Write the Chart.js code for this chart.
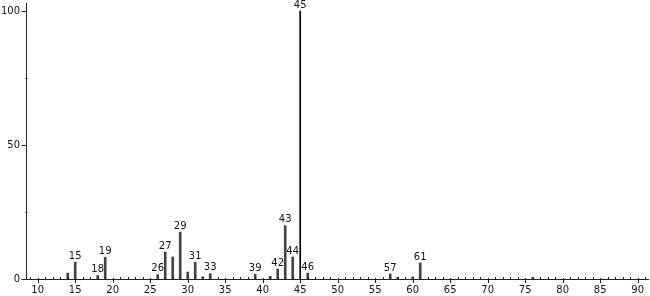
<!DOCTYPE html>
<html>
<head>
<meta charset="utf-8">
<script src="https://cdn.jsdelivr.net/npm/chart.js@4"></script>
<style>
  body { margin: 0; background: #fff; }
  #wrap { width: 650px; height: 296px; }
</style>
</head>
<body>
<div id="wrap"><canvas id="spectrum"></canvas></div>
<script>
// m/z values and relative intensities
const masses = [14, 15, 18, 19, 26, 27, 28, 29, 30, 31, 32, 33, 39, 41, 42, 43, 44, 45, 46, 57, 58, 60, 61, 76];
const intensities = [2.2, 6.3, 1.3, 8.1, 1.6, 10.1, 8.2, 17.5, 2.6, 6.3, 0.8, 2.0, 1.8, 1.0, 3.7, 19.9, 8.2, 100, 2.2, 1.9, 0.7, 0.8, 6.0, 0.6];
const labeledMasses = [15, 18, 19, 26, 27, 29, 31, 33, 39, 42, 43, 44, 45, 46, 57, 61];
const basePeak = 45;
const yTickValues = [0, 25, 50, 75, 100];

const fontFamily = "'DejaVu Sans', sans-serif";

const minorPeaks = [];
const basePoints = [];
masses.forEach((m, i) => {
  if (m === basePeak) basePoints.push({ x: m, y: intensities[i] });
  else minorPeaks.push({ x: m, y: intensities[i] });
});

// draws the axis tick marks and the m/z labels over the peaks
const spectrumDecor = {
  id: "spectrumDecor",
  afterDraw(chart) {
    const ctx = chart.ctx;
    const xs = chart.scales.x;
    const ys = chart.scales.y;
    const base = ys.getPixelForValue(0);
    ctx.save();
    ctx.strokeStyle = "#222";
    ctx.lineWidth = 1;

    for (let v = Math.ceil(xs.min); v <= Math.floor(xs.max); v++) {
      const px = Math.round(xs.getPixelForValue(v)) + 0.5;
      ctx.beginPath();
      if (v % 5 === 0) {
        ctx.moveTo(px, base - 1);
        ctx.lineTo(px, base + 4);
      } else {
        ctx.moveTo(px, base - 2);
        ctx.lineTo(px, base + 1);
      }
      ctx.stroke();
    }

    const left = Math.round(xs.left) + 0.5;
    yTickValues.forEach((v) => {
      const py = Math.round(ys.getPixelForValue(v)) + 0.5;
      ctx.beginPath();
      if (v % 50 === 0) {
        ctx.moveTo(left - 5, py);
        ctx.lineTo(left, py);
      } else {
        ctx.moveTo(left - 1, py);
        ctx.lineTo(left + 1, py);
      }
      ctx.stroke();
    });

    ctx.fillStyle = "#111";
    ctx.font = "10px " + fontFamily;
    ctx.textAlign = "center";
    ctx.textBaseline = "bottom";
    labeledMasses.forEach((m) => {
      const i = masses.indexOf(m);
      const px = xs.getPixelForValue(m);
      const py = ys.getPixelForValue(intensities[i]);
      ctx.fillText(String(m), px, py - 1);
    });
    ctx.restore();
  },
};

new Chart(document.getElementById("spectrum"), {
  type: "bar",
  data: {
    datasets: [
      {
        data: minorPeaks,
        backgroundColor: "#444",
        barThickness: 2,
        grouped: false,
      },
      {
        data: basePoints,
        backgroundColor: "#000",
        barThickness: 1,
        grouped: false,
      },
    ],
  },
  options: {
    responsive: true,
    maintainAspectRatio: false,
    animation: false,
    events: [],
    layout: { padding: { top: 3, right: 2, left: 0, bottom: 0 } },
    plugins: {
      legend: { display: false },
      tooltip: { enabled: false },
    },
    scales: {
      x: {
        type: "linear",
        offset: false,
        min: 8.44,
        max: 91.37,
        afterFit: (scale) => {
          scale.height = 17;
          scale.paddingLeft = 0;
          scale.paddingRight = 0;
        },
        afterBuildTicks: (scale) => {
          const t = [];
          for (let v = 10; v <= 90; v += 5) t.push({ value: v });
          scale.ticks = t;
        },
        grid: { display: false, drawTicks: false },
        border: { display: true, color: "#222", width: 1 },
        ticks: {
          padding: 5,
          maxRotation: 0,
          autoSkip: false,
          color: "#111",
          font: { family: fontFamily, size: 10 },
        },
      },
      y: {
        min: 0,
        max: 103,
        afterFit: (scale) => {
          scale.width = 26;
          scale.paddingTop = 0;
          scale.paddingBottom = 0;
        },
        afterBuildTicks: (scale) => {
          scale.ticks = yTickValues.map((v) => ({ value: v }));
        },
        grid: { display: false, drawTicks: false },
        border: { display: true, color: "#222", width: 1 },
        ticks: {
          padding: 6,
          color: "#111",
          font: { family: fontFamily, size: 10 },
          callback: (v) => (v % 50 === 0 ? String(v) : ""),
        },
      },
    },
  },
  plugins: [spectrumDecor],
});
</script>
</body>
</html>
